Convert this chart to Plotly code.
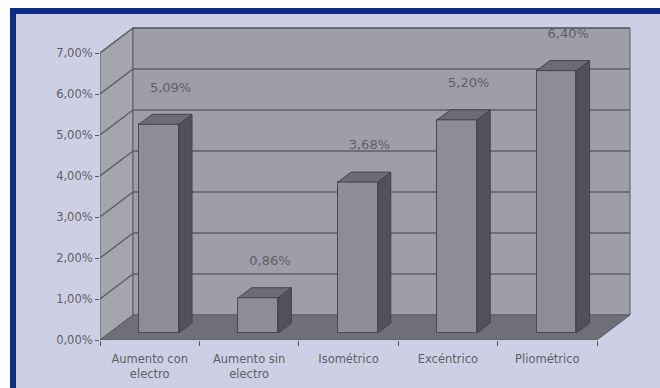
import plotly.graph_objects as go

# ---- data ----
categories = ["Aumento con<br>electro", "Aumento sin<br>electro", "Isométrico", "Excéntrico", "Pliométrico"]
values = [5.09, 0.86, 3.68, 5.20, 6.40]
value_labels = ["5,09%", "0,86%", "3,68%", "5,20%", "6,40%"]
y_ticks = [0, 1, 2, 3, 4, 5, 6, 7]
y_tick_labels = ["0,00%", "1,00%", "2,00%", "3,00%", "4,00%", "5,00%", "6,00%", "7,00%"]

# ---- geometry (pseudo 3D) ----
W, H = 660, 388
ML, MB = 100, 48
PX_PER_U = 99.4
PX_PER_V = 41.0
plot_w = W - ML
plot_h = H - MB
XMAX = plot_w / PX_PER_U
YMAX = plot_h / PX_PER_V
DX = 33 / PX_PER_U      # full depth offset in x units
DY = 25 / PX_PER_V      # full depth offset in y units
D0, D1 = 0.28, 0.68     # bar depth span
BW = 0.40               # bar width
N = len(categories)
VTOP = max(y_ticks)

def px(xp):
    return (xp - ML) / plot_w

def py(yp):
    return (plot_h - yp) / plot_h

WALL_L = "#a4a5af"
WALL_B = "#9d9ea8"
FLOOR = "#6e6f77"
EDGE = "#5a5b63"
GRID = "#5e5f67"
BAR_F = "#8c8d95"
BAR_S = "#505159"
BAR_T = "#6b6c74"
TXT = "#5f5f66"
FONT = "DejaVu Sans"

shapes = []
# background frame
shapes.append(dict(type="rect", xref="paper", yref="paper",
                   x0=px(13), y0=py(11), x1=px(720), y1=py(440),
                   line=dict(color="#0c2d83", width=6), fillcolor="#cdd0e4", layer="below"))

def path(pts):
    return "M " + " L ".join(f"{a},{b}" for a, b in pts) + " Z"

# left wall
shapes.append(dict(type="path", xref="x", yref="y", layer="below",
                   path=path([(0, 0), (0, VTOP), (DX, VTOP + DY), (DX, DY)]),
                   fillcolor=WALL_L, line=dict(color=EDGE, width=1)))
# back wall
shapes.append(dict(type="rect", xref="x", yref="y", layer="below",
                   x0=DX, y0=DY, x1=N + DX, y1=VTOP + DY,
                   fillcolor=WALL_B, line=dict(color=EDGE, width=1)))
# gridlines
for k in y_ticks[1:]:
    shapes.append(dict(type="line", xref="x", yref="y", layer="below",
                       x0=DX, y0=k + DY, x1=N + DX, y1=k + DY,
                       line=dict(color=GRID, width=1.5)))
    shapes.append(dict(type="line", xref="x", yref="y", layer="below",
                       x0=0, y0=k, x1=DX, y1=k + DY,
                       line=dict(color=GRID, width=1.5)))
# floor
shapes.append(dict(type="path", xref="x", yref="y", layer="below",
                   path=path([(0, 0), (N, 0), (N + DX, DY), (DX, DY)]),
                   fillcolor=FLOOR, line=dict(color=EDGE, width=1)))

fig = go.Figure()

# bar front faces
xs_front = [i + 0.5 + DX * D0 for i in range(N)]
fig.add_trace(go.Bar(x=xs_front, y=values, base=[DY * D0] * N, width=BW,
                     marker=dict(color=BAR_F, line=dict(color="#4a4b52", width=1)),
                     hoverinfo="skip", showlegend=False))

ddx = DX * (D1 - D0)
ddy = DY * (D1 - D0)
sx, sy, tx, ty = [], [], [], []
for i, v in enumerate(values):
    xl = xs_front[i] - BW / 2
    xr = xs_front[i] + BW / 2
    b = DY * D0
    sx += [xr, xr, xr + ddx, xr + ddx, xr, None]
    sy += [b, b + v, b + v + ddy, b + ddy, b, None]
    tx += [xl, xr, xr + ddx, xl + ddx, xl, None]
    ty += [b + v, b + v, b + v + ddy, b + v + ddy, b + v, None]
fig.add_trace(go.Scatter(x=sx, y=sy, fill="toself", fillcolor=BAR_S, mode="lines",
                         line=dict(color="#44454c", width=1), hoverinfo="skip", showlegend=False))
fig.add_trace(go.Scatter(x=tx, y=ty, fill="toself", fillcolor=BAR_T, mode="lines",
                         line=dict(color="#44454c", width=1), hoverinfo="skip", showlegend=False))

# value labels
fig.add_trace(go.Scatter(x=[i + 0.5 + 0.21 for i in range(N)], y=[v + 1.05 for v in values],
                         mode="text", text=value_labels,
                         textfont=dict(family=FONT, size=13, color=TXT),
                         hoverinfo="skip", showlegend=False))

fig.update_layout(
    width=W, height=H,
    margin=dict(l=ML, r=0, t=0, b=MB),
    paper_bgcolor="white", plot_bgcolor="rgba(0,0,0,0)",
    shapes=shapes,
    xaxis=dict(range=[0, XMAX], showgrid=False, zeroline=False, showline=False,
               tickvals=[i + 0.5 for i in range(N)], ticktext=categories,
               ticks="outside", ticklen=8, tickcolor="rgba(0,0,0,0)",
               tickfont=dict(family=FONT, size=11.5, color=TXT),
               minor=dict(tickvals=list(range(N + 1)), ticks="outside", ticklen=5,
                          tickcolor=EDGE, tickwidth=1, showgrid=False),
               fixedrange=True),
    yaxis=dict(range=[0, YMAX], showgrid=False, zeroline=False, showline=False,
               tickvals=y_ticks, ticktext=y_tick_labels,
               ticks="outside", ticklen=4, tickcolor=EDGE,
               tickfont=dict(family=FONT, size=11.5, color=TXT),
               fixedrange=True),
    bargap=0,
)

fig.write_html("out.html", config={"displayModeBar": False},
               post_script="document.body.style.margin='0';document.body.style.overflow='hidden';")
